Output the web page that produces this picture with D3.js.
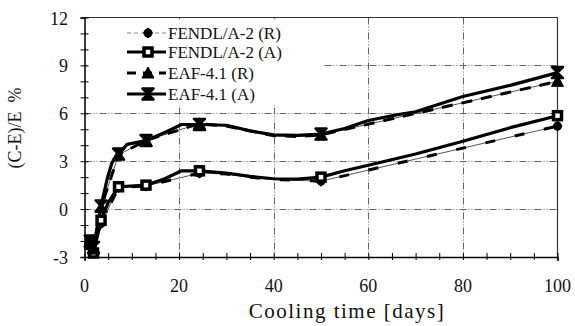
<!DOCTYPE html>
<html>
<head>
<meta charset="utf-8">
<script src="https://cdn.jsdelivr.net/npm/d3@7"></script>
<style>
body { margin: 0; background: #fff; }
svg text { font-family: 'Liberation Serif', 'Times New Roman', Times, 'DejaVu Serif', serif; fill: #111; }
</style>
</head>
<body>
<svg id="graph"></svg>
<script>
// cooling times (days) where markers are drawn
var markerTimes = [1.2, 1.9, 3.5, 7.2, 13, 24.3, 50, 100];

var fendlRTimes  = [1.2, 1.9, 3.5, 7.2, 13, 24.3, 30, 35, 40, 45, 50, 100];
var fendlRValues = [-2.1, -2.6, -0.9, 1.35, 1.45, 2.25, 2.2, 2.0, 1.85, 1.8, 1.75, 5.2];

var fendlATimes  = [1.2, 1.9, 3.5, 5, 7.2, 13, 17, 20.5, 24.3, 30, 35, 40, 45, 50, 55, 60, 70, 80, 90, 100];
var fendlAValues = [-2.2, -2.75, -0.7, 0.4, 1.4, 1.5, 1.9, 2.4, 2.4, 2.25, 2.05, 1.9, 1.88, 2.0, 2.4, 2.75, 3.45, 4.25, 5.1, 5.85];

var eafRTimes  = [1.2, 1.9, 3.5, 7.2, 13, 24.3, 30, 35, 40, 45, 50, 100];
var eafRValues = [-2.0, -2.5, 0.1, 3.4, 4.3, 5.35, 5.2, 4.9, 4.6, 4.55, 4.65, 8.0];

var eafATimes  = [1.2, 1.9, 3.5, 4.8, 5.8, 7.2, 9, 13, 17, 20.5, 24.3, 30, 35, 40, 45, 50, 55, 60, 65, 70, 80, 90, 100];
var eafAValues = [-2.0, -2.4, 0.2, 1.9, 2.9, 3.45, 4.05, 4.3, 4.8, 5.3, 5.3, 5.25, 4.9, 4.65, 4.62, 4.7, 5.05, 5.55, 5.85, 6.1, 7.05, 7.75, 8.55];

var xTicks = [0, 20, 40, 60, 80, 100];
var yTicks = [-3, 0, 3, 6, 9, 12];
var seriesNames = ["FENDL/A-2 (R)", "FENDL/A-2 (A)", "EAF-4.1 (R)", "EAF-4.1 (A)"];

var screen = {width: 575, height: 326};
var svg = d3.select("#graph")
    .attr("width", screen.width)
    .attr("height", screen.height)
    .attr("font-family", "'Liberation Serif', 'Times New Roman', serif");

var xScale = d3.scaleLinear().domain([0, 100]).range([84.5, 557.5]);
var yScale = d3.scaleLinear().domain([-3, 12]).range([257, 17.5]);

var toPoints = function(times, values)
{
    return times.map(function(t, i) { return {t: t, v: values[i]}; });
}

var series = [
    {name: seriesNames[0], pts: toPoints(fendlRTimes, fendlRValues), kind: "R", thin: true, marker: "circle"},
    {name: seriesNames[1], pts: toPoints(fendlATimes, fendlAValues), kind: "A", marker: "square"},
    {name: seriesNames[2], pts: toPoints(eafRTimes, eafRValues), kind: "R", thin: false, marker: "triangle"},
    {name: seriesNames[3], pts: toPoints(eafATimes, eafAValues), kind: "A", marker: "bowtie"}
];

// gridlines
var grid = svg.append("g")
    .attr("stroke", "#666")
    .attr("stroke-width", 1)
    .attr("stroke-dasharray", "7,2,1,2,1,2");
grid.selectAll("line.h")
    .data([0, 3, 6, 9])
    .enter().append("line")
    .attr("x1", xScale(0)).attr("x2", xScale(100))
    .attr("y1", function(d) { return Math.round(yScale(d)) + 0.5; })
    .attr("y2", function(d) { return Math.round(yScale(d)) + 0.5; });
grid.selectAll("line.v")
    .data([20, 40, 60, 80])
    .enter().append("line")
    .attr("y1", yScale(12)).attr("y2", yScale(-3))
    .attr("x1", function(d) { return Math.round(xScale(d)) + 0.5; })
    .attr("x2", function(d) { return Math.round(xScale(d)) + 0.5; });

// legend background hides the grid
svg.append("rect")
    .attr("x", 87).attr("y", 19)
    .attr("width", 236).attr("height", 86)
    .attr("fill", "#fff");

// frame
svg.append("line")
    .attr("x1", xScale(0)).attr("x2", xScale(100))
    .attr("y1", yScale(12)).attr("y2", yScale(12))
    .attr("stroke", "#333").attr("stroke-width", 1);
svg.append("line")
    .attr("x1", xScale(100)).attr("x2", xScale(100))
    .attr("y1", yScale(12)).attr("y2", yScale(-3))
    .attr("stroke", "#333").attr("stroke-width", 1.2);

var yAxis = d3.axisLeft(yScale)
    .tickValues(d3.range(-3, 13, 1))
    .tickSize(4)
    .tickFormat("");
var gy = svg.append("g").attr("transform", "translate(" + xScale(0) + ",0)").call(yAxis);
gy.selectAll(".tick line").attr("x2", 4).attr("x1", -4);
gy.select(".domain").attr("stroke-width", 1.5);

var xAxis = d3.axisBottom(xScale)
    .tickValues(d3.range(0, 101, 5))
    .tickSize(4)
    .tickFormat("");
var gx = svg.append("g").attr("transform", "translate(0," + yScale(-3) + ")").call(xAxis);
gx.selectAll(".tick line").attr("y1", -4).attr("y2", 3);
gx.select(".domain").attr("stroke-width", 1.5);

// tick labels
svg.selectAll("text.ylab")
    .data(yTicks)
    .enter().append("text")
    .attr("x", 68)
    .attr("y", function(d) { return yScale(d) + 7; })
    .attr("text-anchor", "end")
    .attr("font-size", 18)
    .text(function(d) { return d; });
svg.selectAll("text.xlab")
    .data(xTicks)
    .enter().append("text")
    .attr("x", function(d) { return xScale(d); })
    .attr("y", 292)
    .attr("text-anchor", "middle")
    .attr("font-size", 18)
    .text(function(d) { return d; });

// axis titles
svg.append("text")
    .attr("transform", "translate(21,128) rotate(-90)")
    .attr("text-anchor", "middle")
    .attr("font-size", 18)
    .attr("xml:space", "preserve")
    .text("(C-E)/E  %");
svg.append("text")
    .attr("x", 347).attr("y", 318)
    .attr("text-anchor", "middle")
    .attr("font-size", 21)
    .attr("letter-spacing", 1.5)
    .text("Cooling time [days]");

var line = d3.line()
    .x(function(d) { return xScale(d.t); })
    .y(function(d) { return yScale(d.v); });

var drawMarker = function(g, kind)
{
    if (kind == "circle") {
        g.append("path").attr("d", "M0,-5.5 L5,0 L0,5.5 L-5,0 Z").attr("fill", "#000");
        g.append("circle").attr("r", 4.5).attr("fill", "#000");
    } else if (kind == "square") {
        g.append("rect").attr("x", -4).attr("y", -4).attr("width", 8).attr("height", 8)
            .attr("fill", "#fff").attr("stroke", "#000").attr("stroke-width", 3.5);
    } else if (kind == "triangle") {
        g.append("path").attr("d", "M0,-6 L6,5 L-6,5 Z").attr("fill", "#000")
            .attr("stroke", "#000").attr("stroke-width", 1);
    } else {
        g.append("path").attr("d", "M-5.5,-5.5 L5.5,-5.5 L-5.5,5.5 L5.5,5.5 Z").attr("fill", "#000")
            .attr("stroke", "#000").attr("stroke-width", 2.5).attr("stroke-linejoin", "round");
    }
}

// R lines: thin base with thick dashes on top
series.filter(function(s) { return s.kind == "R"; }).forEach(function(s)
{
    svg.append("path")
        .attr("d", line(s.pts))
        .attr("fill", "none")
        .attr("stroke", "#555")
        .attr("stroke-width", 1);
    svg.append("path")
        .attr("d", line(s.pts))
        .attr("fill", "none")
        .attr("stroke", "#000")
        .attr("stroke-width", 3)
        .attr("stroke-dasharray", s.thin ? "10,20" : "11,9");
});

series.filter(function(s) { return s.kind == "A"; }).forEach(function(s)
{
    svg.append("path")
        .attr("d", line(s.pts))
        .attr("fill", "none")
        .attr("stroke", "#000")
        .attr("stroke-width", 3.2)
        .attr("stroke-linejoin", "round");
});

series.forEach(function(s)
{
    s.pts.filter(function(p) { return markerTimes.indexOf(p.t) >= 0; })
        .forEach(function(p)
        {
            var g = svg.append("g")
                .attr("transform", "translate(" + xScale(p.t) + "," + yScale(p.v) + ")");
            drawMarker(g, s.marker);
        });
});

// legend
var legendY = [33, 52, 73, 94];
series.forEach(function(s, i)
{
    var g = svg.append("g").attr("transform", "translate(0," + legendY[i] + ")");
    var ln = g.append("line").attr("x1", 127).attr("x2", 166).attr("y1", 0).attr("y2", 0);
    if (i == 0) {
        ln.attr("stroke", "#888").attr("stroke-width", 1).attr("stroke-dasharray", "4,3");
    } else if (i == 2) {
        ln.attr("stroke", "#000").attr("stroke-width", 3).attr("stroke-dasharray", "9,7");
    } else {
        ln.attr("stroke", "#000").attr("stroke-width", 3);
    }
    var m = g.append("g").attr("transform", "translate(148,0)");
    drawMarker(m, s.marker);
    g.append("text")
        .attr("x", 168).attr("y", 6)
        .attr("font-size", 17)
        .text(s.name);
});
</script>
</body>
</html>
